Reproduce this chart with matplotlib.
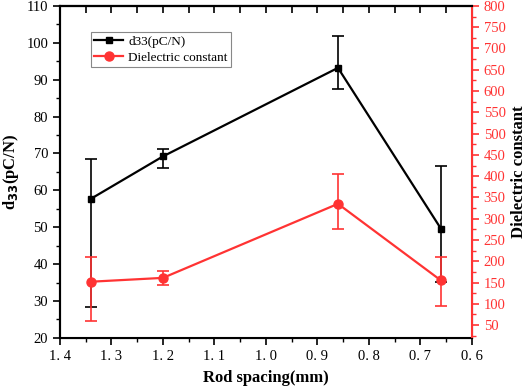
import matplotlib
matplotlib.use("Agg")
import matplotlib.pyplot as plt
from matplotlib.ticker import MultipleLocator, FuncFormatter, NullFormatter
from matplotlib.lines import Line2D

plt.rcParams['font.family'] = ['Liberation Serif', 'DejaVu Serif']

spacing = [1.34, 1.20, 0.86, 0.66]
d33 = [57.7, 69.2, 93.2, 49.6]
d33_err_low = [29.2, 3.1, 5.7, 14.4]
d33_err_high = [10.8, 2.1, 8.7, 16.9]
diel = [152, 161, 335, 155]
diel_err_low = [93, 17, 60, 60]
diel_err_high = [58, 15, 70, 55]

red = '#ff3333'
fig = plt.figure(figsize=(5.26, 3.92), dpi=100)
ax = fig.add_axes([0.114, 0.138, 0.783, 0.847])
ax2 = ax.twinx()

ax.errorbar(spacing, d33, yerr=[d33_err_low, d33_err_high], color='black', marker='s',
            markersize=5, lw=1.6, capsize=4, elinewidth=1.2, capthick=1.2, zorder=3)
ax2.errorbar(spacing, diel, yerr=[diel_err_low, diel_err_high], color=red, marker='o',
             markersize=6.5, lw=1.6, capsize=4, elinewidth=1.2, capthick=1.2)

ax.set_xlim(1.4, 0.6)
ax.set_ylim(20, 110)
ax2.set_ylim(20, 800)

ax.xaxis.set_major_locator(MultipleLocator(0.1))
ax.xaxis.set_minor_locator(MultipleLocator(0.05))
ax.xaxis.set_major_formatter(FuncFormatter(lambda v, p: f"{v:.1f}".replace('.', '. ')))
ax.yaxis.set_major_locator(MultipleLocator(10))
ax.yaxis.set_minor_locator(MultipleLocator(5))
ax2.yaxis.set_minor_locator(MultipleLocator(25))
ax2.set_yticks([v for v in range(50, 801, 50)])

ax.tick_params(axis='both', which='major', direction='out', length=5, width=1.2, labelsize=10.5)
ax.tick_params(axis='both', which='minor', direction='out', length=3, width=1.0)
ax2.tick_params(axis='y', which='major', direction='out', length=5, width=1.2, colors=red, labelsize=10.5)
ax2.tick_params(axis='y', which='minor', direction='out', length=3, width=1.0, colors=red)

sec = ax.secondary_xaxis('top')
sec.xaxis.set_major_locator(MultipleLocator(0.05))
sec.xaxis.set_major_formatter(NullFormatter())
sec.tick_params(axis='x', which='major', direction='in', length=5, width=1.2)
sec.spines['top'].set_linewidth(1.5)

for s in ['left', 'bottom', 'top']:
    ax.spines[s].set_linewidth(1.5)
ax2.spines['right'].set_color(red)
ax2.spines['right'].set_linewidth(1.5)
ax2.spines['left'].set_linewidth(1.5)
ax2.spines['top'].set_linewidth(1.5)

ax.set_xlabel('Rod spacing(mm)', fontsize=12, fontweight='bold', labelpad=5)
ax.set_ylabel('d$_{\\mathbf{33}}$(pC/N)', fontsize=12, fontweight='bold', labelpad=4)
ax2.set_ylabel('Dielectric constant', fontsize=12, fontweight='bold', labelpad=4)

handles = [Line2D([], [], color='black', marker='s', markersize=5, lw=1.6),
           Line2D([], [], color=red, marker='o', markersize=6.5, lw=1.6)]
labels = ['d33(pC/N)', 'Dielectric constant']
leg = ax2.legend(handles, labels, loc='upper left', bbox_to_anchor=(0.075, 0.92), fontsize=9.5,
                 frameon=True, fancybox=False, edgecolor='#888888', framealpha=1,
                 handlelength=2.2, borderpad=0.25, labelspacing=0.25, handletextpad=0.4,
                 borderaxespad=0)
leg.get_frame().set_linewidth(0.8)

fig.savefig('out.png', dpi=100)
